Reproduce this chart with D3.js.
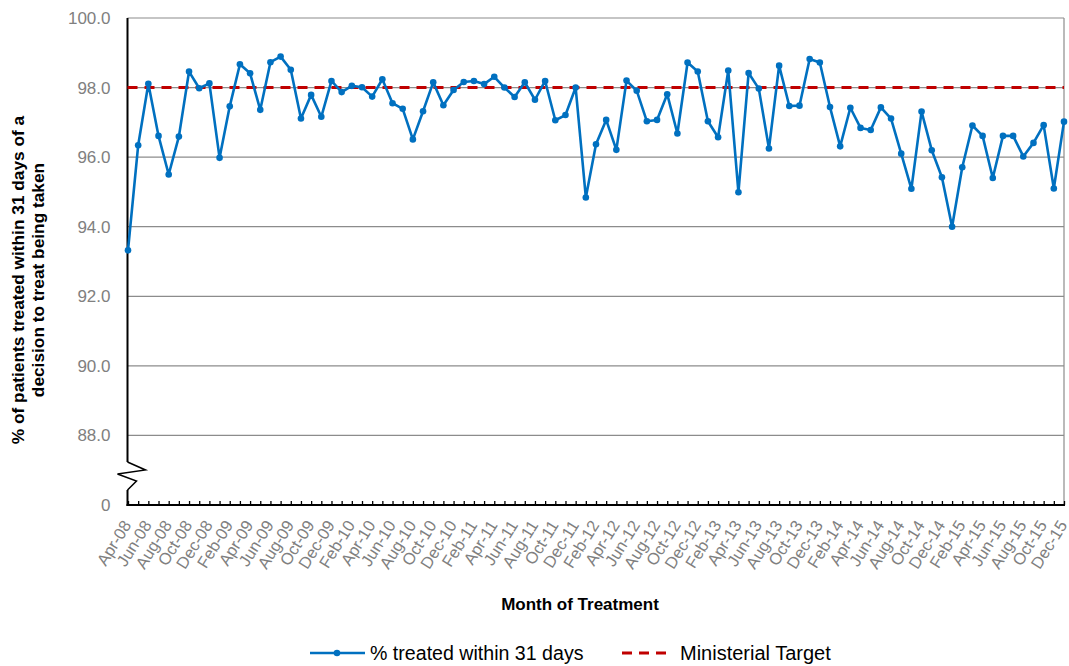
<!DOCTYPE html>
<html>
<head>
<meta charset="utf-8">
<script src="https://cdn.jsdelivr.net/npm/d3@7"></script>
<style>
  body { margin: 0; background: #fff; }
  text { font-family: "Liberation Sans", Arial, sans-serif; }
</style>
</head>
<body>
<svg width="1069" height="666"></svg>
<script>
// months of treatment, Apr-08 .. Dec-15
const months = [
  'Apr-08','May-08','Jun-08','Jul-08','Aug-08','Sep-08','Oct-08','Nov-08','Dec-08',
  'Jan-09','Feb-09','Mar-09','Apr-09','May-09','Jun-09','Jul-09','Aug-09','Sep-09','Oct-09','Nov-09','Dec-09',
  'Jan-10','Feb-10','Mar-10','Apr-10','May-10','Jun-10','Jul-10','Aug-10','Sep-10','Oct-10','Nov-10','Dec-10',
  'Jan-11','Feb-11','Mar-11','Apr-11','May-11','Jun-11','Jul-11','Aug-11','Sep-11','Oct-11','Nov-11','Dec-11',
  'Jan-12','Feb-12','Mar-12','Apr-12','May-12','Jun-12','Jul-12','Aug-12','Sep-12','Oct-12','Nov-12','Dec-12',
  'Jan-13','Feb-13','Mar-13','Apr-13','May-13','Jun-13','Jul-13','Aug-13','Sep-13','Oct-13','Nov-13','Dec-13',
  'Jan-14','Feb-14','Mar-14','Apr-14','May-14','Jun-14','Jul-14','Aug-14','Sep-14','Oct-14','Nov-14','Dec-14',
  'Jan-15','Feb-15','Mar-15','Apr-15','May-15','Jun-15','Jul-15','Aug-15','Sep-15','Oct-15','Nov-15','Dec-15'
];

// % treated within 31 days
const treated = [
  93.32, 96.34, 98.11, 96.61, 95.50, 96.59, 98.46, 97.98, 98.12, 95.98,
  97.46, 98.67, 98.41, 97.36, 98.73, 98.89, 98.51, 97.11, 97.79, 97.16,
  98.19, 97.87, 98.05, 98.01, 97.74, 98.24, 97.55, 97.39, 96.51, 97.32,
  98.15, 97.49, 97.93, 98.16, 98.19, 98.10, 98.31, 98.00, 97.73, 98.15,
  97.65, 98.19, 97.06, 97.21, 98.00, 94.84, 96.37, 97.07, 96.21, 98.20,
  97.91, 97.03, 97.07, 97.81, 96.68, 98.72, 98.46, 97.03, 96.57, 98.49,
  94.99, 98.42, 97.97, 96.25, 98.63, 97.47, 97.48, 98.82, 98.72, 97.44,
  96.31, 97.42, 96.84, 96.78, 97.43, 97.11, 96.10, 95.09, 97.31, 96.20,
  95.42, 94.00, 95.71, 96.91, 96.61, 95.40, 96.61, 96.61, 96.02, 96.41,
  96.92, 95.10, 97.02
];

const target = 98;

// y ticks, the bottom one is shown as "0" (axis break)
const yTicks = [86, 88, 90, 92, 94, 96, 98, 100];
const yTickLabels = ['0', '88.0', '90.0', '92.0', '94.0', '96.0', '98.0', '100.0'];

// x labels: every other month
const xLabels = months.filter((m, i) => i % 2 === 0);

const svg = d3.select('svg');
const plotL = 127.5, plotR = 1064, plotT = 18, plotB = 505;

const x = d3.scalePoint().domain(months).range([128, 1064]);
const y = d3.scaleLinear().domain([86, 100]).range([plotB, plotT]);

// gridlines
svg.append('g')
  .selectAll('line')
  .data(yTicks.slice(1))
  .join('line')
  .attr('x1', plotL).attr('x2', plotR)
  .attr('y1', d => y(d)).attr('y2', d => y(d))
  .attr('stroke', '#8c8c8c').attr('stroke-width', 1.2);

// right border
svg.append('line')
  .attr('x1', plotR).attr('x2', plotR)
  .attr('y1', plotT).attr('y2', plotB)
  .attr('stroke', '#8c8c8c').attr('stroke-width', 1.2);

// y axis labels
const yAxis = d3.axisLeft(y)
  .tickValues(yTicks)
  .tickFormat((d, i) => yTickLabels[i])
  .tickSize(0).tickPadding(17);
const gy = svg.append('g').attr('transform', `translate(${plotL},0)`).call(yAxis);
gy.select('.domain').remove();
gy.selectAll('text').attr('fill', '#808080').style('font-size', '17px');

// y axis line with break
const brk = [[0, 0], [18, 8], [-10, 12], [9, 19], [0, 28]];
svg.append('path')
  .attr('d', d3.line()([[plotL, plotT], [plotL, 462]]))
  .attr('stroke', '#000').attr('stroke-width', 2).attr('fill', 'none');
svg.append('path')
  .attr('d', d3.line()(brk.map(p => [plotL + p[0], 462 + p[1]])))
  .attr('stroke', '#000').attr('stroke-width', 1.5).attr('fill', 'none');
svg.append('path')
  .attr('d', d3.line()([[plotL, 490], [plotL, plotB + 1]]))
  .attr('stroke', '#000').attr('stroke-width', 2).attr('fill', 'none');

// x axis
const xAxis = d3.axisBottom(x).tickSizeInner(-4).tickSizeOuter(0).tickFormat('');
const gx = svg.append('g').attr('transform', `translate(0,${plotB})`).call(xAxis);
gx.select('.domain').attr('d', `M${plotL - 1},0H${plotR + 1}`).attr('stroke-width', 2);
gx.selectAll('.tick line').attr('stroke-width', 1.3);

svg.append('g')
  .selectAll('text')
  .data(xLabels)
  .join('text')
  .attr('transform', d => `translate(${x(d) - 1},${plotB + 17}) rotate(-58)`)
  .attr('text-anchor', 'end')
  .attr('dy', '0.35em')
  .attr('fill', '#808080')
  .style('font-size', '16.5px')
  .text(d => d);

// target line
svg.append('line')
  .attr('x1', plotL).attr('x2', plotR)
  .attr('y1', y(target)).attr('y2', y(target))
  .attr('stroke', '#c00000').attr('stroke-width', 3)
  .attr('stroke-dasharray', '10,7');

// series
const line = d3.line().x((d, i) => x(months[i])).y(d => y(d));
svg.append('path')
  .datum(treated)
  .attr('d', line)
  .attr('fill', 'none')
  .attr('stroke', '#0070c0')
  .attr('stroke-width', 2.6)
  .attr('stroke-linejoin', 'round');

svg.append('g')
  .selectAll('circle')
  .data(treated)
  .join('circle')
  .attr('cx', (d, i) => x(months[i]))
  .attr('cy', d => y(d))
  .attr('r', 3.3)
  .attr('fill', '#0070c0');

// axis titles
svg.append('text')
  .attr('x', 580).attr('y', 610)
  .attr('text-anchor', 'middle')
  .style('font-size', '17px').style('font-weight', 'bold')
  .text('Month of Treatment');

const yt = svg.append('text')
  .attr('transform', 'translate(24,280) rotate(-90)')
  .attr('text-anchor', 'middle')
  .style('font-size', '17.3px').style('font-weight', 'bold');
yt.append('tspan').attr('x', 0).attr('dy', 0).text('% of patients treated within 31 days of a');
yt.append('tspan').attr('x', 0).attr('dy', 20).text('decision to treat being taken');

// legend
const lg = svg.append('g').attr('transform', 'translate(0,653)');
lg.append('line').attr('x1', 310).attr('x2', 365).attr('y1', 0).attr('y2', 0)
  .attr('stroke', '#0070c0').attr('stroke-width', 2.6);
lg.append('circle').attr('cx', 337).attr('cy', 0).attr('r', 3.3).attr('fill', '#0070c0');
lg.append('text').attr('x', 370).attr('y', 0).attr('dy', '0.35em')
  .style('font-size', '19.6px').text('% treated within 31 days');
lg.append('line').attr('x1', 622).attr('x2', 673).attr('y1', 0).attr('y2', 0)
  .attr('stroke', '#c00000').attr('stroke-width', 3).attr('stroke-dasharray', '10,7');
lg.append('text').attr('x', 680).attr('y', 0).attr('dy', '0.35em')
  .style('font-size', '20px').text('Ministerial Target');
</script>
</body>
</html>
